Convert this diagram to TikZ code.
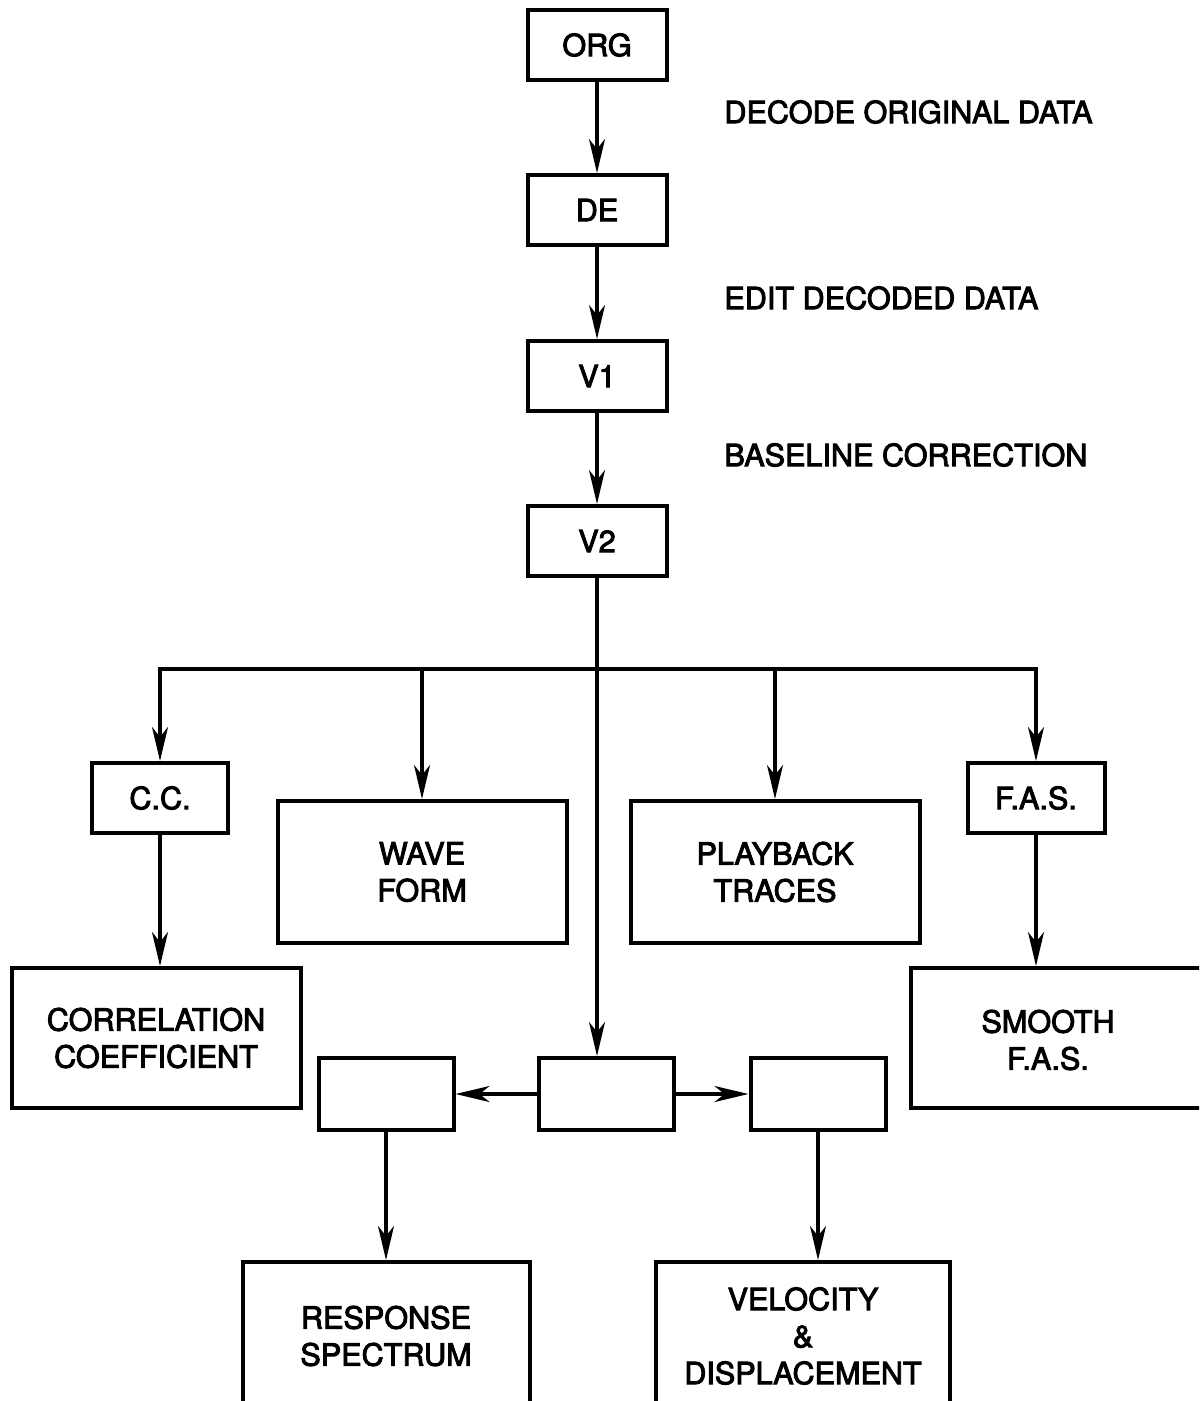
\documentclass[tikz,border=0pt]{standalone}
\usepackage{fontspec}
\newfontfamily\letterfont{TeX Gyre Heros}[FakeBold=3]
\usetikzlibrary{arrows.meta}
\begin{document}
\begin{tikzpicture}[x=0.5pt,y=-0.5pt,
  lettering/.style={font=\letterfont\fontsize{15.3}{18.5}\selectfont},
  box/.style={draw, line width=2pt, inner sep=0pt, align=center, lettering},
  smallbox/.style={box, minimum width=69.5pt, minimum height=35pt},
  bigbox/.style={box, minimum width=144.5pt, minimum height=71pt},
  tallbox/.style={box, minimum width=144.5pt, minimum height=74pt},
  wire/.style={line width=1.6pt, line join=miter},
  flow/.style={wire, -{Stealth[length=17pt,width=8pt,inset=5pt]}},
  note/.style={anchor=west, inner sep=0pt, lettering}]
\clip (0,0) rectangle (1199,1401);

% processing chain
\node[smallbox] (org) at (597,45)  {ORG};
\node[smallbox] (de)  at (597,210) {DE};
\node[smallbox] (v1)  at (597,376) {V1};
\node[smallbox] (v2)  at (597,541) {V2};

\node[note] (n1) at (724,112) {DECODE ORIGINAL DATA};
\node[note] (n2) at (724,298) {EDIT DECODED DATA};
\node[note] (n3) at (724,455) {BASELINE CORRECTION};

% first level of outputs
\coordinate (bus) at (0,669);
\node[smallbox, minimum width=68pt] (cc)  at (160,798)  {C.C.};
\node[smallbox, minimum width=68.5pt] (fas) at (1036,798) {F.A.S.};
\node[bigbox] (wave) at (422,872) {WAVE\\FORM};
\node[bigbox] (play) at (775,872) {PLAYBACK\\TRACES};

\node[bigbox, minimum height=70pt] (corr) at (156,1038) {CORRELATION\\COEFFICIENT};
\node[box, minimum width=147pt, minimum height=70pt] (smooth) at (1058,1038) {};
\node[lettering, align=center] (smoothtext) at (1048,1040) {SMOOTH\\F.A.S.};

% lower branch
\node[smallbox, minimum width=67.5pt, minimum height=36pt] (left)  at (386,1094) {};
\node[smallbox, minimum width=67.5pt, minimum height=36pt] (mid)   at (606,1094) {};
\node[smallbox, minimum width=67.5pt, minimum height=36pt] (right) at (818,1094) {};

\node[tallbox, minimum width=143.5pt] (resp) at (386,1336) {RESPONSE\\SPECTRUM};
\node[tallbox, minimum width=147pt]   (vel)  at (803,1336) {VELOCITY\\\&\\DISPLACEMENT};

% connectors
\draw[flow] (org) -- (de);
\draw[flow] (de) -- (v1);
\draw[flow] (v1) -- (v2);
\draw[flow] (v2.south) -- (v2.south |- mid.north);
\draw[flow] (v2.south |- bus) -- (cc |- bus) -- (cc);
\draw[flow] (v2.south |- bus) -- (fas |- bus) -- (fas);
\draw[flow] (wave |- bus) -- (wave);
\draw[flow] (play |- bus) -- (play);
\draw[flow] (cc.south) -- (cc.south |- corr.north);
\draw[flow] (fas) -- (fas |- smooth.north);
\draw[flow] (mid) -- (left);
\draw[flow] (mid) -- (right);
\draw[flow] (left) -- (left |- resp.north);
\draw[flow] (right) -- (right |- vel.north);
\end{tikzpicture}
\end{document}
